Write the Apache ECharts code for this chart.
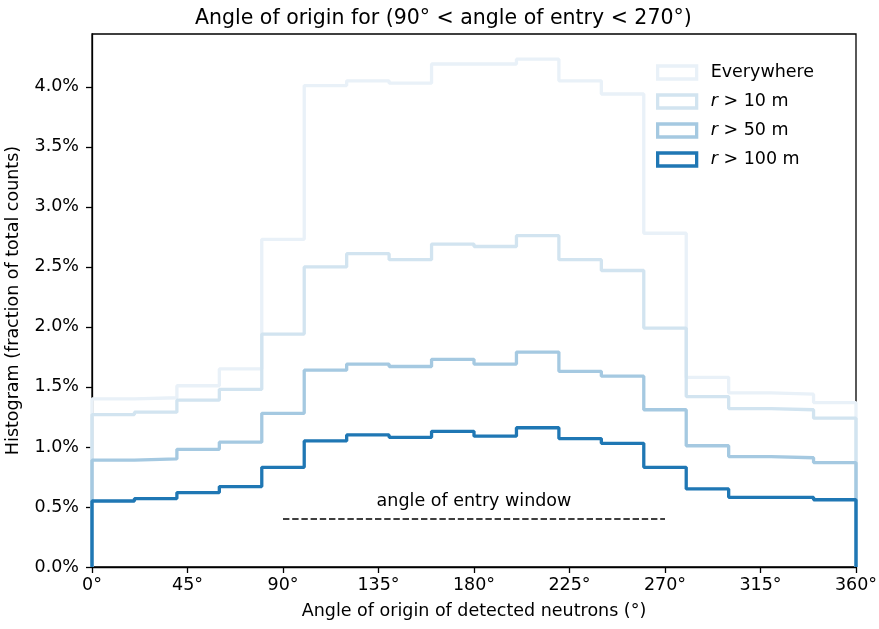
<!DOCTYPE html>
<html>
<head>
<meta charset="utf-8">
<script src="https://cdn.jsdelivr.net/npm/echarts@6/dist/echarts.min.js"></script>
<style>
  html, body { margin: 0; padding: 0; background: #fff; }
  #chart { width: 879px; height: 629px; }
</style>
</head>
<body>
<div id="chart"></div>
<script>
// bin edges (deg) and histogram heights (% of total counts)
const binEdges = [0, 20, 40, 60, 80, 100, 120, 140, 160, 180, 200, 220, 240, 260, 280, 300, 320, 340, 360]
const everywhere = [1.40, 1.41, 1.51, 1.65, 2.73, 4.01, 4.05, 4.03, 4.19, 4.19, 4.23, 4.05, 3.94, 2.78, 1.58, 1.45, 1.44, 1.37]
const r10 = [1.27, 1.29, 1.39, 1.48, 1.94, 2.50, 2.61, 2.56, 2.69, 2.67, 2.76, 2.56, 2.47, 1.99, 1.42, 1.32, 1.31, 1.24]
const r50 = [0.89, 0.90, 0.98, 1.04, 1.28, 1.64, 1.69, 1.67, 1.73, 1.69, 1.79, 1.63, 1.59, 1.31, 1.01, 0.92, 0.91, 0.87]
const r100 = [0.55, 0.57, 0.62, 0.67, 0.83, 1.05, 1.10, 1.08, 1.13, 1.09, 1.16, 1.07, 1.03, 0.83, 0.65, 0.58, 0.58, 0.56]
const seriesNames = ['Everywhere', 'r > 10 m', 'r > 50 m', 'r > 100 m']
const yTicks = [0, 0.5, 1.0, 1.5, 2.0, 2.5, 3.0, 3.5, 4.0]
const windowRange = [90, 270]
const windowLevel = 0.4
const windowText = 'angle of entry window'

const FONT = 'DejaVu Sans'
const colors = ['#e9f1f8', '#d2e4f0', '#a5c9e1', '#1f77b4']

// histtype='step' outline: drop to zero at both ends
function stepData(vals) {
  const pts = [[binEdges[0], 0]]
  vals.forEach((v, i) => pts.push([binEdges[i], v]))
  pts.push([binEdges[binEdges.length - 1], vals[vals.length - 1]])
  pts.push([binEdges[binEdges.length - 1], 0])
  return pts
}

const chart = echarts.init(document.getElementById('chart'))
const allVals = [everywhere, r10, r50, r100]

const series = allVals.map((vals, i) => ({
  name: seriesNames[i],
  type: 'line',
  step: 'end',
  symbol: 'none',
  z: 2 + i,
  lineStyle: { color: colors[i], width: 3.3 },
  itemStyle: { color: colors[i] },
  data: stepData(vals)
}))

series.push({
  name: 'window',
  type: 'line',
  symbol: 'none',
  silent: true,
  lineStyle: { color: '#000', width: 1.7, type: [6.4, 2.8] },
  data: [[windowRange[0], windowLevel], [windowRange[1], windowLevel]]
})
series.push({
  name: 'windowLabel',
  type: 'scatter',
  symbolSize: 0,
  silent: true,
  itemStyle: { opacity: 1 },
  label: {
    show: true, position: 'top', distance: 9, opacity: 1,
    formatter: windowText, color: '#000', fontSize: 17.5, fontFamily: FONT
  },
  data: [[(windowRange[0] + windowRange[1]) / 2, windowLevel]]
})

chart.setOption({
  animation: false,
  title: {
    text: 'Angle of origin for (90° < angle of entry < 270°)',
    left: 190, top: 3,
    textStyle: { fontFamily: FONT, fontSize: 20.5, fontWeight: 'normal', color: '#000' }
  },
  legend: {
    data: seriesNames.map((n, i) => ({
      name: n,
      icon: 'rect',
      itemStyle: { color: '#fff', borderColor: colors[i], borderWidth: 3.3 }
    })),
    orient: 'vertical',
    left: 656, top: 63.5, padding: 0,
    itemWidth: 39, itemHeight: 13,
    itemGap: 11,
    formatter: n => n.startsWith('r ') ? '{i|r}' + n.slice(1) : n,
    textStyle: {
      fontFamily: FONT, fontSize: 17.5, color: '#000', padding: [0, 0, 0, 9],
      rich: { i: { fontFamily: FONT, fontSize: 17.5, fontStyle: 'italic', color: '#000' } }
    }
  },
  grid: {
    left: 92, right: 23, top: 34, bottom: 62,
    outerBoundsMode: 'none', containLabel: false,
    show: true, borderColor: '#000', borderWidth: 1.3
  },
  xAxis: {
    type: 'value', min: 0, max: 360, interval: 45,
    name: 'Angle of origin of detected neutrons (°)',
    nameLocation: 'middle', nameGap: 35,
    nameTextStyle: { fontFamily: FONT, fontSize: 17.5, color: '#000' },
    axisLine: { lineStyle: { color: '#000', width: 1.3 } },
    axisTick: { length: 6, lineStyle: { color: '#000', width: 1.3 } },
    axisLabel: { fontFamily: FONT, fontSize: 17.5, color: '#000', margin: 9, formatter: v => v + '°' },
    splitLine: { show: false }
  },
  yAxis: {
    type: 'value', min: 0, max: 4.44,
    name: 'Histogram (fraction of total counts)',
    nameLocation: 'middle', nameGap: 70,
    nameTextStyle: { fontFamily: FONT, fontSize: 17.5, color: '#000' },
    axisLine: { show: true, lineStyle: { color: '#000', width: 1.3 } },
    axisTick: { show: true, length: 6, customValues: yTicks, lineStyle: { color: '#000', width: 1.3 } },
    axisLabel: { fontFamily: FONT, fontSize: 17.5, color: '#000', margin: 13, customValues: yTicks, formatter: v => v.toFixed(1) + '%' },
    splitLine: { show: false }
  },
  series: series
})
</script>
</body>
</html>
